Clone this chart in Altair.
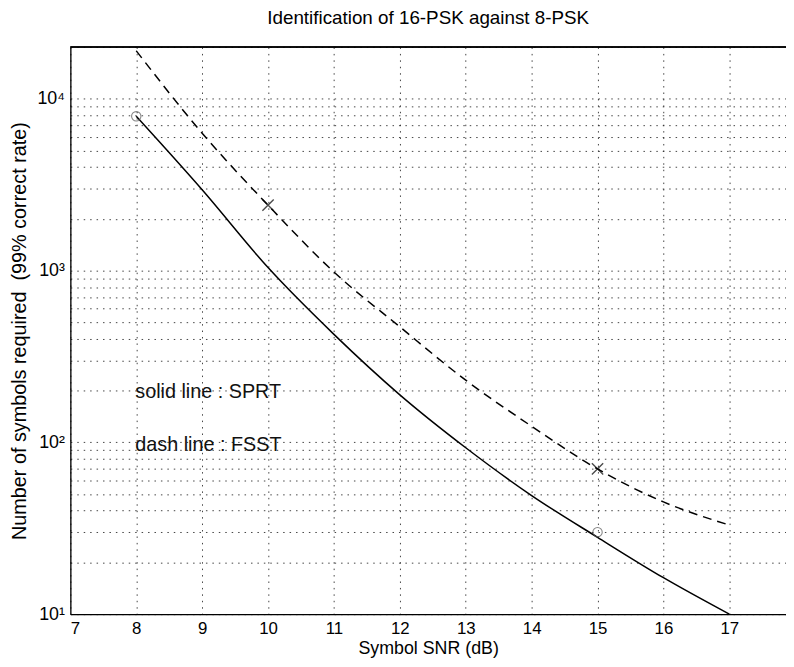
import altair as alt
import pandas as pd

snr = [8, 9, 10, 11, 12, 13, 14, 15, 16, 17]
sprt = [7900, 2950, 1040, 425, 189, 93, 49, 28, 16.3, 10]
fsst = [19000, 6300, 2400, 980, 470, 230, 124, 70, 45, 33]

circle_x = [8, 15]
circle_y = [7900, 30]
cross_x = [10, 15]
cross_y = [2400, 70]

note_x = [8.0, 8.0]
note_y = [196, 97]
note_text = ["solid line : SPRT", "dash line : FSST"]

x_ticks = [7, 8, 9, 10, 11, 12, 13, 14, 15, 16, 17]
y_grid = [m * 10 ** e for e in range(1, 5) for m in range(1, 10)] + [20000]

W, H = 723, 573
FONT = "Liberation Sans"

df_s = pd.DataFrame({"snr": snr, "n": sprt})
df_f = pd.DataFrame({"snr": snr, "n": fsst})
df_c = pd.DataFrame({"snr": circle_x, "n": circle_y})
df_x = pd.DataFrame({"snr": cross_x, "n": cross_y})
df_t = pd.DataFrame({"snr": note_x, "n": note_y, "t": note_text})

xs = alt.Scale(domain=[7, 17.86], nice=False, zero=False)
ys = alt.Scale(type="log", domain=[10, 20000], nice=False)

xaxis = alt.Axis(values=x_ticks, format="d", grid=True, gridDash=[1.5, 5], gridColor="#222",
                 gridOpacity=0.85, ticks=False, labelFontSize=17, labelPadding=7,
                 labelFont=FONT, title="Symbol SNR (dB)", titleFontSize=18,
                 titleFont=FONT, titleFontWeight="normal", titlePadding=3,
                 domainColor="black", domainWidth=1.3, labelColor="black",
                 titleColor="black")
label_expr = ("datum.value == 10 ? '10¹' : datum.value == 100 ? '10²' : "
              "datum.value == 1000 ? '10³' : datum.value == 10000 ? '10⁴' : ''")
yaxis = alt.Axis(values=y_grid, grid=True, gridDash=[1.5, 5], gridColor="#222",
                 gridOpacity=0.85, ticks=False, labelExpr=label_expr,
                 labelFontSize=18, labelFont=FONT, labelPadding=6,
                 title="Number of symbols required\u00a0\u00a0(99% correct rate)",
                 titleFontSize=20, titleFont=FONT, titleFontWeight="normal",
                 titlePadding=8, domainColor="black", domainWidth=1.3,
                 labelColor="black", titleColor="black", labelOverlap=False)

ex = alt.X("snr:Q", scale=xs, axis=xaxis)
ey = alt.Y("n:Q", scale=ys, axis=yaxis)

solid = alt.Chart(df_s).mark_line(color="black", strokeWidth=1.5,
                                  interpolate="monotone", clip=True).encode(x=ex, y=ey)
dashed = alt.Chart(df_f).mark_line(color="black", strokeWidth=1.5, strokeDash=[9, 6],
                                   interpolate="monotone", clip=True).encode(x=ex, y=ey)
circles = alt.Chart(df_c).mark_point(shape="circle", size=90, color="#555",
                                     strokeWidth=1.1, filled=False).encode(x=ex, y=ey)
crosses = alt.Chart(df_x).mark_point(shape="M-1,-1L1,1M-1,1L1,-1", size=130,
                                     color="black", strokeWidth=1.4, filled=False).encode(x=ex, y=ey)
notes = alt.Chart(df_t).mark_text(align="left", baseline="middle", fontSize=20,
                                  font=FONT, color="#111", dx=-1).encode(
    x=ex, y=ey, text="t:N")
top = alt.Chart(df_t).mark_rule(color="black", strokeWidth=1.5).encode(
    x=alt.value(0), x2=alt.value(W), y=alt.value(0))

chart = alt.layer(solid, dashed, circles, crosses, notes, top).properties(
    width=W, height=H,
    title=alt.TitleParams("Identification of 16-PSK against 8-PSK", fontSize=19,
                          font=FONT, fontWeight="normal", color="black", offset=10),
    autosize=alt.AutoSizeParams(type="none"),
    padding={"left": 63, "top": 36, "right": 0, "bottom": 48},
).configure_view(stroke=None).configure(background="white")

chart.save("out.html", embed_options={"renderer": "svg", "actions": False})
